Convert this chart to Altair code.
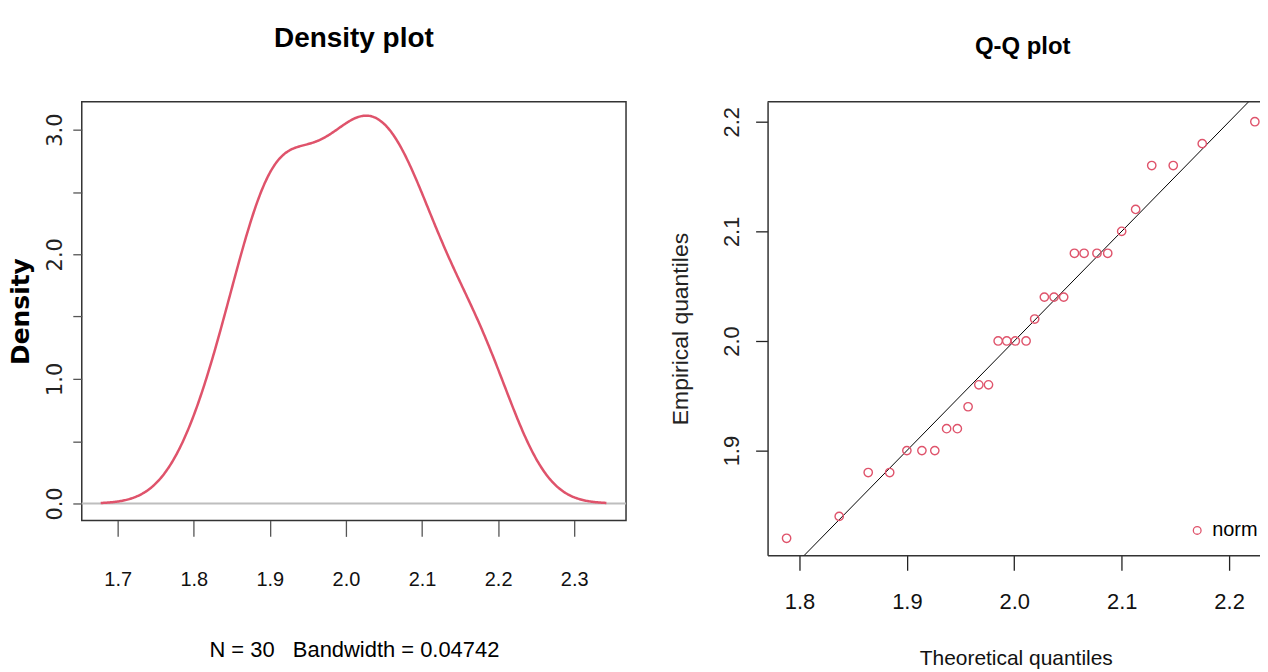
import altair as alt
import pandas as pd

# ---------------- data ----------------
sample_values = [1.82, 1.84, 1.88, 1.88, 1.90, 1.90, 1.90, 1.92, 1.92, 1.94,
                 1.96, 1.96, 2.00, 2.00, 2.00, 2.00, 2.02, 2.04, 2.04, 2.04,
                 2.08, 2.08, 2.08, 2.08, 2.10, 2.12, 2.16, 2.16, 2.18, 2.20]
theoretical_q = [1.788, 1.837, 1.864, 1.884, 1.900, 1.914, 1.926, 1.937, 1.947, 1.957,
                 1.967, 1.976, 1.985, 1.993, 2.001, 2.011, 2.019, 2.028, 2.037, 2.046,
                 2.056, 2.065, 2.077, 2.087, 2.100, 2.113, 2.128, 2.148, 2.175, 2.224]
bandwidth = 0.04742
density_extent = [1.6777, 2.3423]
zero_level = [0.0]
ref_line_x = [1.75, 2.25]
ref_line_y = [1.75, 2.25]
dist_name = ["norm"]

left_x_ticks = [1.7, 1.8, 1.9, 2.0, 2.1, 2.2, 2.3]
left_y_ticks = [0.0, 0.5, 1.0, 1.5, 2.0, 2.5, 3.0]
right_x_ticks = [1.8, 1.9, 2.0, 2.1, 2.2]
right_y_ticks = [1.9, 2.0, 2.1, 2.2]

sample_df = pd.DataFrame({"value": sample_values})
zero_df = pd.DataFrame({"level": zero_level})
qq_df = pd.DataFrame({"theoretical": theoretical_q, "empirical": sorted(sample_values),
                      "dist": dist_name * len(sample_values)})
line_df = pd.DataFrame({"theoretical": ref_line_x, "empirical": ref_line_y})

ARIAL = "Liberation Sans"
WIDE = "DejaVu Sans"
RED = "#DF536B"
FRAME = "#333333"

LW, LH = 546, 420
RW, RH = 498, 455

# ---------------- left: density ----------------
xs_left = alt.Scale(domain=[1.6528, 2.3681], nice=False, zero=False)
ys_left = alt.Scale(domain=[-0.136, 3.224], nice=False, zero=False)

x_axis_left = alt.Axis(values=left_x_ticks, format=".1f", grid=False, domain=False,
                       labelFont=ARIAL, labelFontSize=20, labelColor="#111",
                       labelBaseline="alphabetic", labelPadding=49, labelFlush=False,
                       tickSize=16, tickColor="#555", tickWidth=1.3,
                       title="N = 30\u00a0\u00a0\u00a0Bandwidth = 0.04742",
                       titleFont=ARIAL, titleFontSize=22, titleFontWeight="normal",
                       titleColor="#000", titleBaseline="alphabetic", titleY=137)
y_axis_left = alt.Axis(values=left_y_ticks,
                       labelExpr="datum.value % 1 === 0 ? format(datum.value, '.1f') : ''",
                       grid=False, domain=False, labelAngle=270, labelAlign="center",
                       labelBaseline="alphabetic", labelFont=WIDE, labelFontSize=21,
                       labelColor="#222", labelPadding=11, labelFlush=False,
                       tickSize=9, tickColor="#555", tickWidth=1.3,
                       title="Density", titleFont=WIDE, titleFontSize=25,
                       titleFontWeight="bold", titleColor="#000", titleAngle=270,
                       titleBaseline="alphabetic", titleAlign="center",
                       titleX=-53, titleY=LH / 2)

zero_rule = alt.Chart(zero_df).mark_rule(color="#BEBEBE", strokeWidth=2).encode(
    y=alt.Y("level:Q", scale=ys_left, axis=y_axis_left),
    x=alt.value(0), x2=alt.value(LW))

density_line = alt.Chart(sample_df).transform_density(
    "value", as_=["value", "density"], bandwidth=bandwidth,
    extent=density_extent, steps=512
).mark_line(color=RED, strokeWidth=2.5).encode(
    x=alt.X("value:Q", scale=xs_left, axis=x_axis_left),
    y=alt.Y("density:Q", scale=ys_left, axis=y_axis_left))

left = alt.layer(zero_rule, density_line).properties(
    width=LW, height=LH,
    view=alt.ViewBackground(stroke=FRAME, strokeWidth=1.5),
    title=alt.TitleParams("Density plot", font=ARIAL, fontSize=28, fontWeight="bold",
                          color="#000", anchor="middle", frame="group",
                          baseline="alphabetic", offset=27))

# ---------------- right: Q-Q ----------------
xs_right = alt.Scale(domain=[1.7703, 2.2325], nice=False, zero=False)
ys_right = alt.Scale(domain=[1.8045, 2.2182], nice=False, zero=False)

x_axis_right = alt.Axis(values=right_x_ticks, format=".1f", grid=False,
                        domain=True, domainColor=FRAME, domainWidth=1.5,
                        labelFont=ARIAL, labelFontSize=22, labelColor="#111",
                        labelBaseline="alphabetic", labelPadding=38, labelFlush=False,
                        tickSize=15, tickColor="#222", tickWidth=1.3,
                        title="Theoretical quantiles", titleFont=ARIAL, titleFontSize=21,
                        titleFontWeight="normal", titleColor="#111",
                        titleBaseline="alphabetic", titleY=110)
y_axis_right = alt.Axis(values=right_y_ticks, format=".1f", grid=False,
                        domain=True, domainColor=FRAME, domainWidth=1.5,
                        labelAngle=270, labelAlign="center", labelBaseline="alphabetic",
                        labelFont=ARIAL, labelFontSize=22, labelColor="#222",
                        labelPadding=17, labelFlush=False,
                        tickSize=12, tickColor="#222", tickWidth=1.3,
                        title="Empirical quantiles", titleFont=ARIAL, titleFontSize=23,
                        titleFontWeight="normal", titleColor="#222", titleAngle=270,
                        titleBaseline="alphabetic", titleAlign="center",
                        titleX=-80, titleY=RH / 2)

ref_line = alt.Chart(line_df).mark_line(color="#000", strokeWidth=1, clip=True).encode(
    x=alt.X("theoretical:Q", scale=xs_right, axis=x_axis_right),
    y=alt.Y("empirical:Q", scale=ys_right, axis=y_axis_right))

qq_points = alt.Chart(qq_df).mark_point(shape="circle", filled=False, size=70,
                                        strokeWidth=1.4, opacity=1).encode(
    x=alt.X("theoretical:Q", scale=xs_right, axis=x_axis_right),
    y=alt.Y("empirical:Q", scale=ys_right, axis=y_axis_right),
    color=alt.Color("dist:N", scale=alt.Scale(domain=dist_name, range=[RED]),
                    legend=alt.Legend(orient="none", legendX=421, legendY=420,
                                      title=None, labelFont=ARIAL, labelFontSize=20,
                                      labelColor="#000", symbolType="circle",
                                      symbolSize=60, symbolStrokeWidth=1.3,
                                      symbolOffset=0, labelOffset=5, padding=0,
                                      columnPadding=0)))

top_border = alt.Chart(zero_df).mark_rule(color=FRAME, strokeWidth=1.5).encode(
    x=alt.value(0), x2=alt.value(RW), y=alt.value(0))

right = alt.layer(ref_line, qq_points, top_border).properties(
    width=RW, height=RH,
    view=alt.ViewBackground(strokeOpacity=0),
    title=alt.TitleParams("Q-Q plot", font=ARIAL, fontSize=24, fontWeight="bold",
                          color="#000", anchor="middle", frame="group", dx=7,
                          baseline="alphabetic", offset=23))

chart = alt.hconcat(left, right, spacing=142, bounds="flush").resolve_scale(
    color="independent").resolve_legend(color="independent").properties(
    padding={"left": 0, "top": 15, "right": -5, "bottom": 0},
    background="white")

chart.save("out.html", embed_options={"renderer": "svg", "actions": False})
